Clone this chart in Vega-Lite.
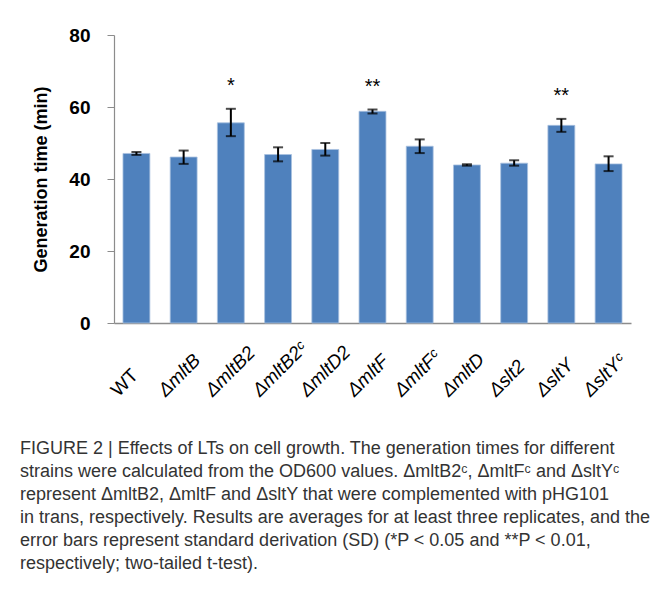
{
  "$schema": "https://vega.github.io/schema/vega-lite/v6.json",
  "width": 517,
  "height": 288,
  "autosize": "none",
  "padding": {"left": 114, "top": 35, "right": 23, "bottom": 267},
  "background": "white",
  "config": {"view": {"stroke": null}, "font": "Liberation Sans"},
  "title": {
    "text": [
      "FIGURE 2 | Effects of LTs on cell growth. The generation times for different",
      "strains were calculated from the OD600 values. ΔmltB2ᶜ, ΔmltFᶜ and ΔsltYᶜ",
      "represent ΔmltB2, ΔmltF and ΔsltY that were complemented with pHG101",
      "in trans, respectively. Results are averages for at least three replicates, and the",
      "error bars represent standard derivation (SD) (*P < 0.05 and **P < 0.01,",
      "respectively; two-tailed t-test)."
    ],
    "orient": "bottom",
    "anchor": "start",
    "frame": "group",
    "dx": -94,
    "offset": 40,
    "baseline": "top",
    "font": "Liberation Sans",
    "fontSize": 18,
    "fontWeight": "normal",
    "color": "#333333",
    "lineHeight": 23
  },
  "data": {
    "values": [
      {"strain": "WT", "mean": 47.1, "lo": 46.7, "hi": 47.5, "sig": ""},
      {"strain": "ΔmltB", "mean": 46.1, "lo": 44.2, "hi": 47.9, "sig": ""},
      {"strain": "ΔmltB2", "mean": 55.6, "lo": 51.9, "hi": 59.5, "sig": "*"},
      {"strain": "ΔmltB2ᶜ", "mean": 46.8, "lo": 44.9, "hi": 48.8, "sig": ""},
      {"strain": "ΔmltD2", "mean": 48.2, "lo": 46.5, "hi": 50.0, "sig": ""},
      {"strain": "ΔmltF", "mean": 58.8, "lo": 58.2, "hi": 59.3, "sig": "**"},
      {"strain": "ΔmltFᶜ", "mean": 49.1, "lo": 47.2, "hi": 51.0, "sig": ""},
      {"strain": "ΔmltD", "mean": 43.9, "lo": 43.7, "hi": 44.1, "sig": ""},
      {"strain": "Δslt2", "mean": 44.4, "lo": 43.7, "hi": 45.2, "sig": ""},
      {"strain": "ΔsltY", "mean": 54.9, "lo": 53.1, "hi": 56.7, "sig": "**"},
      {"strain": "ΔsltYᶜ", "mean": 44.2, "lo": 42.2, "hi": 46.3, "sig": ""}
    ]
  },
  "encoding": {
    "x": {
      "field": "strain",
      "type": "nominal",
      "sort": null,
      "scale": {"paddingInner": 0.43, "paddingOuter": 0.19},
      "axis": {
        "title": null,
        "labelAngle": -45,
        "labelAlign": "left",
        "labelBaseline": "alphabetic",
        "labelFont": "Liberation Sans",
        "labelFontSize": 19,
        "labelFontStyle": {"condition": {"test": "datum.value == 'WT'", "value": "normal"}, "value": "italic"},
        "labelColor": "#000000",
        "labelPadding": 74,
        "labelOffset": -18,
        "labelOverlap": false,
        "labelBound": false,
        "labelFlush": false,
        "ticks": false,
        "tickSize": 0,
        "domainColor": "#8c8c8c",
        "domainWidth": 1.5
      }
    }
  },
  "layer": [
    {
      "mark": {"type": "bar", "color": "#4F81BD", "stroke": "#a9c1e0", "strokeWidth": 0.8},
      "encoding": {
        "y": {
          "field": "mean",
          "type": "quantitative",
          "scale": {"domain": [0, 80], "nice": false},
          "axis": {
            "title": "Generation time (min)",
            "titleFont": "Liberation Sans",
            "titleFontSize": 18,
            "titleFontWeight": "bold",
            "titleColor": "#000000",
            "titlePadding": 18,
            "values": [0, 20, 40, 60, 80],
            "grid": false,
            "labelFont": "Liberation Sans",
            "labelFontSize": 19,
            "labelFontWeight": "bold",
            "labelColor": "#000000",
            "labelPadding": 17,
            "tickSize": 7,
            "tickColor": "#8c8c8c",
            "domainColor": "#8c8c8c",
            "domainWidth": 1.2
          }
        }
      }
    },
    {
      "mark": {"type": "rule", "color": "#000000", "strokeWidth": 2},
      "encoding": {
        "y": {"field": "lo", "type": "quantitative"},
        "y2": {"field": "hi"}
      }
    },
    {
      "mark": {"type": "tick", "color": "#000000", "size": 10, "thickness": 2},
      "encoding": {"y": {"field": "lo", "type": "quantitative"}}
    },
    {
      "mark": {"type": "tick", "color": "#000000", "size": 10, "thickness": 2},
      "encoding": {"y": {"field": "hi", "type": "quantitative"}}
    },
    {
      "mark": {"type": "text", "fontSize": 20, "baseline": "bottom", "dy": -13, "font": "Liberation Sans", "color": "#000000"},
      "encoding": {
        "y": {"field": "hi", "type": "quantitative"},
        "text": {"field": "sig"}
      }
    }
  ]
}
